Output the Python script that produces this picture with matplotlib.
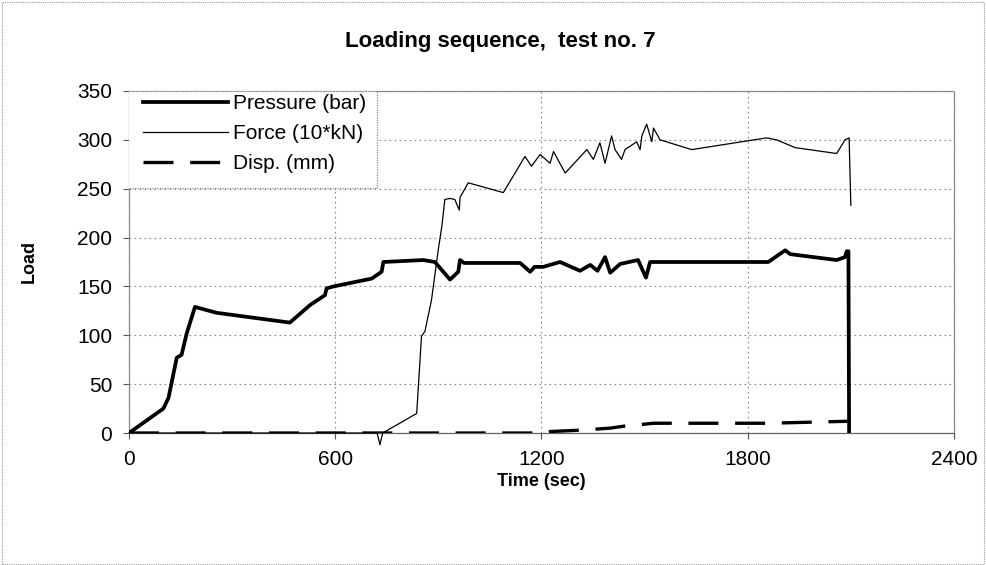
import matplotlib
matplotlib.use("Agg")
import matplotlib.pyplot as plt
from matplotlib.patches import Rectangle

plt.rcParams['font.family'] = ['Liberation Sans', 'DejaVu Sans']

# pressure (bar)
p_time = [0, 100, 115, 139, 153, 168, 192, 255, 468, 527, 570, 575, 595, 706, 735, 740,
          856, 890, 934, 958, 963, 975, 1138, 1167, 1180, 1205, 1254, 1312, 1342, 1363,
          1385, 1400, 1429, 1481, 1504, 1516, 1860, 1909, 1924, 2059, 2083, 2088, 2093, 2095]
p_load = [0, 25, 36, 77, 80, 102, 129, 123, 113, 131, 141, 148, 150, 158, 165, 175,
          177, 175, 157, 165, 177, 174, 174, 165, 170, 170, 175, 166, 172, 166,
          180, 164, 173, 177, 159, 175, 175, 187, 183, 177, 180, 186, 186, 0]

# force (10*kN)
f_time = [0, 722, 730, 738, 837, 851, 861, 880, 900, 910, 919, 934, 948, 961, 963, 987,
          1089, 1152, 1171, 1196, 1225, 1235, 1269, 1332, 1351, 1370, 1385, 1404, 1414,
          1433, 1443, 1477, 1487, 1492, 1506, 1521, 1526, 1545, 1637, 1855, 1884, 1938,
          2059, 2083, 2095, 2100]
f_load = [0, 0, -12, 0, 20, 99, 104, 136, 188, 211, 239, 240, 239, 228, 241, 256,
          246, 283, 273, 285, 276, 288, 266, 290, 280, 297, 276, 304, 290,
          280, 290, 298, 290, 304, 316, 298, 312, 300, 290, 302, 300, 292,
          286, 300, 302, 233]

# displacement (mm)
d_time = [0, 1200, 1225, 1318, 1400, 1450, 1472, 1525, 1860, 2030, 2092]
d_load = [0, 0, 1.5, 3, 5, 7.5, 8, 10, 10, 11.5, 12]

fig = plt.figure(figsize=(9.86, 5.65), dpi=100)
ax = fig.add_axes([0.1308, 0.2336, 0.8367, 0.6054])

ax.plot(p_time, p_load, color='black', lw=2.7, label='Pressure (bar)', zorder=4)
ax.plot(f_time, f_load, color='black', lw=0.9, label='Force (10*kN)', clip_on=False, zorder=3)
ax.plot(d_time, d_load, color='black', lw=2.4, dashes=(9, 5), label='Disp. (mm)', zorder=3)

ax.set_xlim(0, 2400)
ax.set_ylim(0, 350)
ax.set_xticks([0, 600, 1200, 1800, 2400])
ax.set_yticks(range(0, 351, 50))
ax.tick_params(labelsize=15, length=4, width=0.8, color='#555555', pad=8)
ax.grid(True, color='#888888', lw=0.8, ls=(0, (1.5, 3)))
ax.set_axisbelow(True)
for side in ['top', 'right', 'left']:
    ax.spines[side].set_color('#888888')
    ax.spines[side].set_linestyle((0, (1, 1)))
    ax.spines[side].set_linewidth(0.9)
ax.spines['bottom'].set_color('#666666')
ax.spines['bottom'].set_linewidth(0.9)

ax.set_xlabel('Time (sec)', fontsize=13, fontweight='bold', labelpad=3)
ax.set_ylabel('Load', fontsize=13, fontweight='bold')
ax.yaxis.set_label_coords(-0.11, 0.5)

fig.text(0.507, 0.9257, 'Loading sequence,  test no. 7', ha='center', va='center',
         fontsize=16, fontweight='bold')

leg = ax.legend(loc='upper left', bbox_to_anchor=(0.017, 0.99), borderaxespad=0,
                fontsize=15, handlelength=4.1, handletextpad=0.2, labelspacing=0.53,
                borderpad=0, frameon=False)
ax.add_patch(Rectangle((-0.0024, 0.7164), 0.303, 0.2836, transform=ax.transAxes,
                       facecolor='white', edgecolor='#888888', lw=0.9, ls=(0, (1, 1)),
                       zorder=4.5))
leg.set_zorder(5)

fig.patches.append(Rectangle((0.002, 0.002), 0.996, 0.994, transform=fig.transFigure,
                             fill=False, ec='#999999', lw=0.8, ls=(0, (1, 1))))

fig.savefig('out.png', dpi=100)
